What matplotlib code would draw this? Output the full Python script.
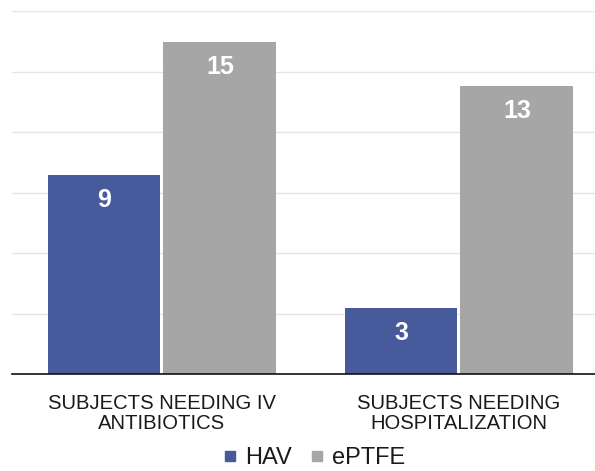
import matplotlib
matplotlib.use('Agg')
import matplotlib.pyplot as plt
from matplotlib.lines import Line2D
import numpy as np

plt.rcParams['font.family'] = ['Liberation Sans', 'DejaVu Sans']

categories = ['SUBJECTS NEEDING IV\nANTIBIOTICS', 'SUBJECTS NEEDING\nHOSPITALIZATION']
series_names = ['HAV', 'ePTFE']
hav_values = [9, 3]
eptfe_values = [15, 13]

colors = ['#465A9C', '#A6A6A6']

fig = plt.figure(figsize=(5.95, 4.71), dpi=100)
ax = fig.add_axes([12 / 595, 97 / 471, 583 / 595, 363 / 471])

x = np.arange(len(categories))
width = 0.38
offset = 0.195

bars1 = ax.bar(x - offset, hav_values, width, color=colors[0], zorder=3)
bars2 = ax.bar(x + offset, eptfe_values, width, color=colors[1], zorder=3)

ymax = 16.4
ax.set_ylim(0, ymax)
ax.set_xlim(-0.505, 1.458)
ax.set_yticks(np.linspace(0, ymax, 7))
ax.yaxis.grid(True, color='#E6E6E6', linewidth=1, zorder=0)
ax.tick_params(axis='y', left=False, labelleft=False)
ax.tick_params(axis='x', bottom=False, pad=11)
ax.set_xticks(x)
ax.set_xticklabels(categories, fontsize=14.6, color='#1A1A1A', linespacing=1.05)

for s in ['top', 'right', 'left']:
    ax.spines[s].set_visible(False)
ax.spines['bottom'].set_color('#111111')
ax.spines['bottom'].set_linewidth(1.2)
ax.spines['bottom'].set_zorder(4)

# value labels inside the top of each bar
for bars in (bars1, bars2):
    for b in bars:
        h = b.get_height()
        ax.annotate(str(int(h)), (b.get_x() + b.get_width() / 2, h),
                    xytext=(0, -18), textcoords='offset points',
                    ha='center', va='center', fontsize=18,
                    fontweight='bold', color='white', zorder=5)

handles = [Line2D([], [], marker='s', linestyle='none', markersize=7,
                  markerfacecolor=c, markeredgecolor=c) for c in colors]
fig.legend(handles, series_names, loc='center', ncol=2,
           bbox_to_anchor=(314 / 595, 1 - 458 / 471), frameon=False,
           fontsize=17, handlelength=0.6, handletextpad=0.35,
           columnspacing=0.75, labelcolor='#1A1A1A', borderpad=0.1)

fig.savefig('out.png', dpi=100, facecolor='white')
